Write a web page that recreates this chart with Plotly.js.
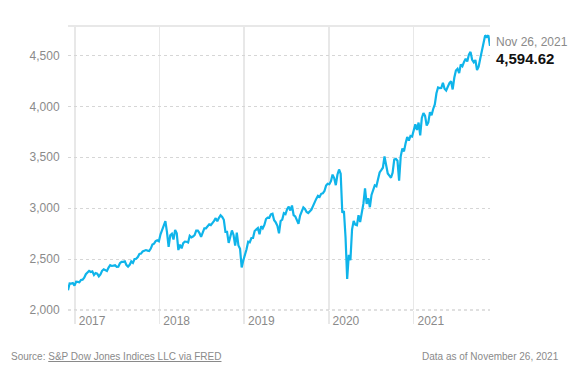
<!DOCTYPE html>
<html>
<head>
<meta charset="utf-8">
<script src="https://cdn.plot.ly/plotly-3.0.1.min.js"></script>
<style>
html,body{margin:0;padding:0;background:#fff;}
#chart{width:571px;height:373px;}
</style>
</head>
<body>
<div id="chart"></div>
<script>
// Weekly S&P 500 closes (Friday), first week ending 2016-12-02
var startDate = "2016-12-02";
var sp2016 = [2191.95,2259.53,2258.07,2263.79,2238.83];
var sp2017 = [2276.98,2274.64,2271.31,2294.69,2297.42,2316.10,2351.16,2367.34,2383.12,2372.60,2378.25,2343.98,2362.72,2355.54,2328.95,2348.69,2384.20,2399.29,2390.90,2381.73,2415.82,2439.07,2431.77,2433.15,2438.30,2423.41,2425.18,2459.27,2472.54,2472.10,2476.83,2441.32,2425.55,2443.05,2476.55,2461.43,2500.23,2502.22,2519.36,2549.33,2553.17,2575.21,2581.07,2587.84,2582.30,2578.85,2602.42,2642.22,2651.50,2675.81,2683.34,2673.61];
var sp2018 = [2743.15,2786.24,2810.30,2872.87,2762.13,2619.55,2732.22,2747.30,2691.25,2786.57,2752.01,2588.26,2640.87,2604.47,2656.30,2670.14,2669.91,2663.42,2727.72,2712.97,2721.33,2734.62,2779.03,2779.66,2754.88,2718.37,2759.82,2801.31,2801.83,2818.82,2840.35,2833.28,2850.13,2874.69,2901.52,2871.68,2904.98,2929.67,2913.98,2885.57,2767.13,2767.78,2658.69,2723.06,2781.01,2736.27,2632.56,2760.17,2633.08,2599.95,2416.62,2485.74];
var sp2019 = [2531.94,2596.26,2670.71,2664.76,2706.53,2707.88,2775.60,2792.67,2803.69,2743.07,2822.48,2800.71,2834.40,2892.74,2907.41,2905.03,2939.88,2945.64,2881.40,2859.53,2826.06,2752.06,2873.34,2886.98,2950.46,2941.76,2990.41,3013.77,2976.61,3025.86,2932.05,2918.65,2888.68,2847.11,2926.46,2978.71,3007.39,2992.07,2961.79,2952.01,2970.27,2986.20,3022.55,3066.91,3093.08,3120.46,3110.29,3140.98,3145.91,3168.80,3221.22,3240.02];
var sp2020 = [3234.85,3265.35,3329.62,3295.47,3225.52,3327.71,3380.16,3337.75,2954.22,2972.37,2711.02,2304.92,2541.47,2488.65,2789.82,2874.56,2836.74,2830.71,2929.80,2863.70,2955.45,3044.31,3193.93,3041.31,3097.74,3009.05,3130.01,3185.04,3224.73,3215.63,3271.12,3351.28,3372.85,3397.16,3508.01,3426.96,3340.97,3319.47,3298.46,3348.42,3477.13,3483.81,3465.39,3269.96,3509.44,3585.15,3557.54,3638.35,3699.12,3663.46,3709.41,3703.06,3756.07];
var sp2021 = [3824.68,3768.25,3841.47,3714.24,3886.83,3934.83,3906.71,3811.15,3841.94,3943.34,3913.10,3974.54,4019.87,4128.80,4185.47,4180.17,4181.17,4232.60,4173.85,4155.86,4204.11,4229.89,4247.44,4166.45,4280.70,4352.34,4369.55,4327.16,4411.79,4395.26,4436.52,4468.00,4441.67,4509.37,4535.43,4458.58,4432.99,4455.48,4357.04,4391.34,4471.37,4544.90,4605.38,4697.53,4682.85,4697.96,4594.62];
var yearTicks = ["2017-01-01","2018-01-01","2019-01-01","2020-01-01","2021-01-01"];
var yearLabels = ["2017","2018","2019","2020","2021"];
var yTicks = [2000,2500,3000,3500,4000,4500];
var yLabels = ["2,000","2,500","3,000","3,500","4,000","4,500"];
var lastDateLabel = "Nov 26, 2021";
var lastValueLabel = "4,594.62";
var sourceText = "S&amp;P Dow Jones Indices LLC via FRED";
var asOfText = "Data as of November 26, 2021";

var values = [].concat(sp2016, sp2017, sp2018, sp2019, sp2020, sp2021);
var dates = [];
var d0 = new Date(startDate + "T00:00:00Z");
for (var i = 0; i < values.length; i++) {
  var d = new Date(d0.getTime() + i * 7 * 86400000);
  dates.push(d.toISOString().slice(0, 10));
}
var lastX = dates[dates.length - 1];
var lastY = values[values.length - 1];

var FONT = "Liberation Sans, Arial, sans-serif";
var trace = {
  x: dates, y: values, type: "scatter", mode: "lines",
  line: {color: "#0fb4ea", width: 2.2},
  hoverinfo: "skip"
};
var layout = {
  width: 571, height: 373,
  margin: {l: 68, r: 81, t: 26, b: 63},
  paper_bgcolor: "#fff", plot_bgcolor: "#fff",
  showlegend: false,
  font: {family: FONT, color: "#8a8a8a", size: 12},
  xaxis: {
    type: "date",
    range: [dates[0], lastX],
    tickvals: yearTicks, ticktext: yearLabels,
    showgrid: true, gridcolor: "#e8e8e8", gridwidth: 1.5,
    ticks: "outside", ticklen: 13, tickcolor: "#e8e8e8", tickwidth: 1.5,
    ticklabelposition: "outside right",
    ticklabelstandoff: 0,
    ticklabelshift: 3,
    tickfont: {family: FONT, size: 12, color: "#8a8a8a"},
    showline: false,
    zeroline: false, fixedrange: true
  },
  yaxis: {
    range: [1999, 4790],
    tickvals: yTicks, ticktext: yLabels,
    showgrid: true, gridcolor: "#d6d6d6", griddash: "dot", gridwidth: 1,
    ticks: "outside", ticklen: 5, tickcolor: "rgba(0,0,0,0)",
    tickfont: {family: FONT, size: 12, color: "#8a8a8a"},
    showline: false, zeroline: false, fixedrange: true
  },
  shapes: [
    {type: "line", xref: "paper", yref: "paper", x0: 0, x1: 1, y0: 1, y1: 1,
     line: {color: "#e8e8e8", width: 2}},
    {type: "line", xref: "paper", yref: "paper", x0: 0, x1: 1, y0: 0, y1: 0,
     line: {color: "#d6d6d6", width: 1.5, dash: "dot"}}
  ],
  annotations: [
    {x: lastX, y: lastY, xref: "x", yref: "y", text: lastDateLabel, showarrow: false,
     xanchor: "left", yanchor: "middle", xshift: 4, yshift: 4,
     font: {family: FONT, size: 12, color: "#8a8a8a"}},
    {x: lastX, y: lastY, xref: "x", yref: "y", text: "<b>" + lastValueLabel + "</b>", showarrow: false,
     xanchor: "left", yanchor: "middle", xshift: 4, yshift: -13,
     font: {family: FONT, size: 15, color: "#111"}},
    {x: 0, y: 0, xref: "paper", yref: "paper", xanchor: "left", yanchor: "middle",
     text: "Source: <span style=\"text-decoration:underline\">" + sourceText + "</span>",
     showarrow: false, xshift: -59, yshift: -46,
     font: {family: FONT, size: 10, color: "#8a8a8a"}},
    {x: 1, y: 0, xref: "paper", yref: "paper", xanchor: "right", yanchor: "middle",
     text: asOfText, showarrow: false, xshift: 71, yshift: -46,
     font: {family: FONT, size: 10, color: "#8a8a8a"}}
  ]
};
Plotly.newPlot("chart", [trace], layout, {displayModeBar: false, staticPlot: true});
</script>
</body>
</html>
